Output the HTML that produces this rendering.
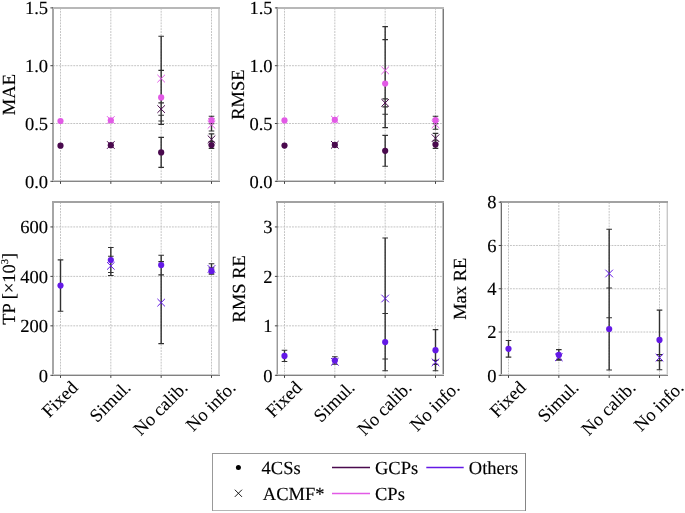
<!DOCTYPE html><html><head><meta charset="utf-8"><style>html,body{margin:0;padding:0;background:#fff;}svg{display:block;will-change:transform;}text{font-family:"Liberation Serif",serif;fill:#000;text-rendering:geometricPrecision;stroke:#000;stroke-width:0.15px;}</style></head><body>
<svg width="685" height="513" viewBox="0 0 685 513">
<rect x="0" y="0" width="685" height="513" fill="#fff"/>
<path d="M53 123.5H219M53 65.7H219M60.5 7.9V181.3M110.83 7.9V181.3M161.17 7.9V181.3M211.5 7.9V181.3" stroke="#c4c4c4" stroke-width="1" stroke-dasharray="1.9 1.0" fill="none"/>
<rect x="52" y="7" width="1" height="175" fill="#a6a6a6"/>
<rect x="53" y="7" width="1" height="175" fill="#a6a6a6"/>
<rect x="218" y="7" width="1" height="175" fill="#d5d5d5"/>
<rect x="219" y="7" width="1" height="175" fill="#d5d5d5"/>
<rect x="52" y="7" width="168" height="1" fill="#b8b8b8"/>
<rect x="52" y="8" width="168" height="1" fill="#b8b8b8"/>
<rect x="52" y="180" width="168" height="1" fill="#cccccc"/>
<rect x="52" y="181" width="168" height="1" fill="#868686"/>
<path d="M50.4 181.3H53M50.4 123.5H53M50.4 65.7H53M50.4 7.9H53M60.5 181.3V183.9M110.83 181.3V183.9M161.17 181.3V183.9M211.5 181.3V183.9" stroke="#444" stroke-width="1" fill="none"/>
<text x="48.1" y="187.5" font-size="18.5" text-anchor="end">0.0</text>
<text x="48.1" y="129.7" font-size="18.5" text-anchor="end">0.5</text>
<text x="48.1" y="71.9" font-size="18.5" text-anchor="end">1.0</text>
<text x="48.1" y="14.1" font-size="18.5" text-anchor="end">1.5</text>
<text transform="translate(15.2 94.6) rotate(-90)" font-size="18.5" text-anchor="middle">MAE</text>
<path d="M161.17 36.2V121M161.17 70.4V124.4M161.17 102.9V115.3M161.17 137.4V167.4M211.5 116.25V123.75M211.5 118.6V131M211.5 133.9V144.7M211.5 141.6V148.4" stroke="#303030" stroke-width="1.4" fill="none"/>
<path d="M158.37 36.2H163.97M158.37 121H163.97M158.37 70.4H163.97M158.37 124.4H163.97M158.37 102.9H163.97M158.37 115.3H163.97M158.37 137.4H163.97M158.37 167.4H163.97M208.7 116.25H214.3M208.7 123.75H214.3M208.7 118.6H214.3M208.7 131H214.3M208.7 133.9H214.3M208.7 144.7H214.3M208.7 141.6H214.3M208.7 148.4H214.3" stroke="#303030" stroke-width="1.1" fill="none"/>
<circle cx="60.5" cy="121" r="3.1" fill="#e25ae6"/>
<circle cx="60.5" cy="145.7" r="3.1" fill="#4a0a4e"/>
<circle cx="110.83" cy="120.3" r="3.1" fill="#e25ae6"/>
<path d="M107.03 116.2L114.63 123.8M107.03 123.8L114.63 116.2" stroke="#e25ae6" stroke-width="1.0" fill="none"/>
<circle cx="110.83" cy="145.2" r="3.1" fill="#4a0a4e"/>
<path d="M107.03 141.2L114.63 148.8M107.03 148.8L114.63 141.2" stroke="#4a0a4e" stroke-width="1.0" fill="none"/>
<path d="M157.37 74.8L164.97 82.4M157.37 82.4L164.97 74.8" stroke="#e25ae6" stroke-width="1.0" fill="none"/>
<circle cx="161.17" cy="97.4" r="3.1" fill="#e25ae6"/>
<path d="M157.37 105.3L164.97 112.9M157.37 112.9L164.97 105.3" stroke="#4a0a4e" stroke-width="1.0" fill="none"/>
<circle cx="161.17" cy="152.4" r="3.1" fill="#4a0a4e"/>
<circle cx="211.5" cy="120" r="3.1" fill="#e25ae6"/>
<path d="M207.7 121L215.3 128.6M207.7 128.6L215.3 121" stroke="#e25ae6" stroke-width="1.0" fill="none"/>
<path d="M207.7 135.5L215.3 143.1M207.7 143.1L215.3 135.5" stroke="#4a0a4e" stroke-width="1.0" fill="none"/>
<circle cx="211.5" cy="145" r="3.1" fill="#4a0a4e"/>
<path d="M277.5 123.5H443M277.5 65.7H443M284.5 7.9V181.3M334.83 7.9V181.3M385.17 7.9V181.3M435.5 7.9V181.3" stroke="#c4c4c4" stroke-width="1" stroke-dasharray="1.9 1.0" fill="none"/>
<rect x="276" y="7" width="1" height="175" fill="#d1d1d1"/>
<rect x="277" y="7" width="1" height="175" fill="#999999"/>
<rect x="442" y="7" width="1" height="175" fill="#c0c0c0"/>
<rect x="443" y="7" width="1" height="175" fill="#7a7a7a"/>
<rect x="276" y="7" width="168" height="1" fill="#b8b8b8"/>
<rect x="276" y="8" width="168" height="1" fill="#b8b8b8"/>
<rect x="276" y="180" width="168" height="1" fill="#cccccc"/>
<rect x="276" y="181" width="168" height="1" fill="#868686"/>
<path d="M274.9 181.3H277.5M274.9 123.5H277.5M274.9 65.7H277.5M274.9 7.9H277.5M284.5 181.3V183.9M334.83 181.3V183.9M385.17 181.3V183.9M435.5 181.3V183.9" stroke="#444" stroke-width="1" fill="none"/>
<text x="272.6" y="187.5" font-size="18.5" text-anchor="end">0.0</text>
<text x="272.6" y="129.7" font-size="18.5" text-anchor="end">0.5</text>
<text x="272.6" y="71.9" font-size="18.5" text-anchor="end">1.0</text>
<text x="272.6" y="14.1" font-size="18.5" text-anchor="end">1.5</text>
<text transform="translate(243.8 94.6) rotate(-90)" font-size="18.5" text-anchor="middle">RMSE</text>
<path d="M385.17 26.6V114.2M385.17 39.6V127.6M385.17 98.9V106.9M385.17 135.4V166.2M435.5 116.25V123.75M435.5 119.3V129.3M435.5 133.4V143M435.5 140.8V148.4" stroke="#303030" stroke-width="1.4" fill="none"/>
<path d="M382.37 26.6H387.97M382.37 114.2H387.97M382.37 39.6H387.97M382.37 127.6H387.97M382.37 98.9H387.97M382.37 106.9H387.97M382.37 135.4H387.97M382.37 166.2H387.97M432.7 116.25H438.3M432.7 123.75H438.3M432.7 119.3H438.3M432.7 129.3H438.3M432.7 133.4H438.3M432.7 143H438.3M432.7 140.8H438.3M432.7 148.4H438.3" stroke="#303030" stroke-width="1.1" fill="none"/>
<circle cx="284.5" cy="120.4" r="3.1" fill="#e25ae6"/>
<circle cx="284.5" cy="145.6" r="3.1" fill="#4a0a4e"/>
<circle cx="334.83" cy="119.8" r="3.1" fill="#e25ae6"/>
<path d="M331.03 115.8L338.63 123.4M331.03 123.4L338.63 115.8" stroke="#e25ae6" stroke-width="1.0" fill="none"/>
<circle cx="334.83" cy="144.9" r="3.1" fill="#4a0a4e"/>
<path d="M331.03 141L338.63 148.6M331.03 148.6L338.63 141" stroke="#4a0a4e" stroke-width="1.0" fill="none"/>
<path d="M381.37 66.6L388.97 74.2M381.37 74.2L388.97 66.6" stroke="#e25ae6" stroke-width="1.0" fill="none"/>
<circle cx="385.17" cy="83.6" r="3.1" fill="#e25ae6"/>
<path d="M381.37 99.1L388.97 106.7M381.37 106.7L388.97 99.1" stroke="#4a0a4e" stroke-width="1.0" fill="none"/>
<circle cx="385.17" cy="150.8" r="3.1" fill="#4a0a4e"/>
<circle cx="435.5" cy="120" r="3.1" fill="#e25ae6"/>
<path d="M431.7 120.5L439.3 128.1M431.7 128.1L439.3 120.5" stroke="#e25ae6" stroke-width="1.0" fill="none"/>
<path d="M431.7 134.4L439.3 142M431.7 142L439.3 134.4" stroke="#4a0a4e" stroke-width="1.0" fill="none"/>
<circle cx="435.5" cy="144.6" r="3.1" fill="#4a0a4e"/>
<path d="M53 325.84H219M53 276.39H219M53 226.93H219M60.5 202.2V375.3M110.83 202.2V375.3M161.17 202.2V375.3M211.5 202.2V375.3" stroke="#c4c4c4" stroke-width="1" stroke-dasharray="1.9 1.0" fill="none"/>
<rect x="52" y="201" width="1" height="175" fill="#a6a6a6"/>
<rect x="53" y="201" width="1" height="175" fill="#a6a6a6"/>
<rect x="218" y="201" width="1" height="175" fill="#d5d5d5"/>
<rect x="219" y="201" width="1" height="175" fill="#d5d5d5"/>
<rect x="52" y="201" width="168" height="1" fill="#a2a2a2"/>
<rect x="52" y="202" width="168" height="1" fill="#a2a2a2"/>
<rect x="52" y="374" width="168" height="1" fill="#cdcdcd"/>
<rect x="52" y="375" width="168" height="1" fill="#818181"/>
<path d="M50.4 375.3H53M50.4 325.84H53M50.4 276.39H53M50.4 226.93H53M60.5 375.3V377.9M110.83 375.3V377.9M161.17 375.3V377.9M211.5 375.3V377.9" stroke="#444" stroke-width="1" fill="none"/>
<text x="48.1" y="381.5" font-size="18.5" text-anchor="end">0</text>
<text x="48.1" y="332.04" font-size="18.5" text-anchor="end">200</text>
<text x="48.1" y="282.59" font-size="18.5" text-anchor="end">400</text>
<text x="48.1" y="233.13" font-size="18.5" text-anchor="end">600</text>
<text transform="translate(14.6 288.75) rotate(-90)" font-size="18.5" text-anchor="middle">TP [×10<tspan font-size="10.545" dy="-6.2">3</tspan><tspan dy="6.2">]</tspan></text>
<text transform="translate(49.15 418.43) rotate(-45)" font-size="18.5" style="stroke-width:0.08px">Fixed</text>
<text transform="translate(97.12 423.17) rotate(-45)" font-size="18.5" style="stroke-width:0.08px">Simul.</text>
<text transform="translate(140.74 436.59) rotate(-45)" font-size="18.5" style="stroke-width:0.08px">No calib.</text>
<text transform="translate(193.25 432.24) rotate(-45)" font-size="18.5" style="stroke-width:0.08px">No info.</text>
<path d="M60.5 259.9V311.3M110.83 247.5V272.5M110.83 256.3V275.5M161.17 255.3V274.9M161.17 261.6V343.6M211.5 263.7V274.3M211.5 267.9V273.9" stroke="#303030" stroke-width="1.4" fill="none"/>
<path d="M57.7 259.9H63.3M57.7 311.3H63.3M108.03 247.5H113.63M108.03 272.5H113.63M108.03 256.3H113.63M108.03 275.5H113.63M158.37 255.3H163.97M158.37 274.9H163.97M158.37 261.6H163.97M158.37 343.6H163.97M208.7 263.7H214.3M208.7 274.3H214.3M208.7 267.9H214.3M208.7 273.9H214.3" stroke="#303030" stroke-width="1.1" fill="none"/>
<circle cx="60.5" cy="285.6" r="3.1" fill="#6419e6"/>
<circle cx="110.83" cy="260" r="3.1" fill="#6419e6"/>
<path d="M107.03 262.1L114.63 269.7M107.03 269.7L114.63 262.1" stroke="#6419e6" stroke-width="1.0" fill="none"/>
<circle cx="161.17" cy="265.1" r="3.1" fill="#6419e6"/>
<path d="M157.37 298.8L164.97 306.4M157.37 306.4L164.97 298.8" stroke="#6419e6" stroke-width="1.0" fill="none"/>
<path d="M207.7 265.2L215.3 272.8M207.7 272.8L215.3 265.2" stroke="#6419e6" stroke-width="1.0" fill="none"/>
<circle cx="211.5" cy="270.9" r="3.1" fill="#6419e6"/>
<path d="M277.5 325.84H443M277.5 276.39H443M277.5 226.93H443M284.5 202.2V375.3M334.83 202.2V375.3M385.17 202.2V375.3M435.5 202.2V375.3" stroke="#c4c4c4" stroke-width="1" stroke-dasharray="1.9 1.0" fill="none"/>
<rect x="276" y="201" width="1" height="175" fill="#d1d1d1"/>
<rect x="277" y="201" width="1" height="175" fill="#999999"/>
<rect x="442" y="201" width="1" height="175" fill="#c0c0c0"/>
<rect x="443" y="201" width="1" height="175" fill="#7a7a7a"/>
<rect x="276" y="201" width="168" height="1" fill="#a2a2a2"/>
<rect x="276" y="202" width="168" height="1" fill="#a2a2a2"/>
<rect x="276" y="374" width="168" height="1" fill="#cdcdcd"/>
<rect x="276" y="375" width="168" height="1" fill="#818181"/>
<path d="M274.9 375.3H277.5M274.9 325.84H277.5M274.9 276.39H277.5M274.9 226.93H277.5M284.5 375.3V377.9M334.83 375.3V377.9M385.17 375.3V377.9M435.5 375.3V377.9" stroke="#444" stroke-width="1" fill="none"/>
<text x="272.6" y="381.5" font-size="18.5" text-anchor="end">0</text>
<text x="272.6" y="332.04" font-size="18.5" text-anchor="end">1</text>
<text x="272.6" y="282.59" font-size="18.5" text-anchor="end">2</text>
<text x="272.6" y="233.13" font-size="18.5" text-anchor="end">3</text>
<text transform="translate(244.8 288.75) rotate(-90)" font-size="18.5" text-anchor="middle">RMS RE</text>
<text transform="translate(273.15 418.43) rotate(-45)" font-size="18.5" style="stroke-width:0.08px">Fixed</text>
<text transform="translate(321.12 423.17) rotate(-45)" font-size="18.5" style="stroke-width:0.08px">Simul.</text>
<text transform="translate(364.74 436.59) rotate(-45)" font-size="18.5" style="stroke-width:0.08px">No calib.</text>
<text transform="translate(417.25 432.24) rotate(-45)" font-size="18.5" style="stroke-width:0.08px">No info.</text>
<path d="M284.5 350.3V361.5M334.83 356.7V364.3M334.83 359.3V364.3M385.17 238V359M385.17 313.5V370.7M435.5 329.6V370.8M435.5 360.4V364.4" stroke="#303030" stroke-width="1.4" fill="none"/>
<path d="M281.7 350.3H287.3M281.7 361.5H287.3M332.03 356.7H337.63M332.03 364.3H337.63M332.03 359.3H337.63M332.03 364.3H337.63M382.37 238H387.97M382.37 359H387.97M382.37 313.5H387.97M382.37 370.7H387.97M432.7 329.6H438.3M432.7 370.8H438.3M432.7 360.4H438.3M432.7 364.4H438.3" stroke="#303030" stroke-width="1.1" fill="none"/>
<circle cx="284.5" cy="355.9" r="3.1" fill="#6419e6"/>
<circle cx="334.83" cy="360.5" r="3.1" fill="#6419e6"/>
<path d="M331.03 358L338.63 365.6M331.03 365.6L338.63 358" stroke="#6419e6" stroke-width="1.0" fill="none"/>
<path d="M381.37 294.7L388.97 302.3M381.37 302.3L388.97 294.7" stroke="#6419e6" stroke-width="1.0" fill="none"/>
<circle cx="385.17" cy="342.1" r="3.1" fill="#6419e6"/>
<circle cx="435.5" cy="350.2" r="3.1" fill="#6419e6"/>
<path d="M431.7 358.6L439.3 366.2M431.7 366.2L439.3 358.6" stroke="#6419e6" stroke-width="1.0" fill="none"/>
<path d="M501.3 332.02H667.4M501.3 288.75H667.4M501.3 245.47H667.4M508.5 202.2V375.3M558.83 202.2V375.3M609.17 202.2V375.3M659.5 202.2V375.3" stroke="#c4c4c4" stroke-width="1" stroke-dasharray="1.9 1.0" fill="none"/>
<rect x="500" y="201" width="1" height="175" fill="#d0d0d0"/>
<rect x="501" y="201" width="1" height="175" fill="#6c6c6c"/>
<rect x="666" y="201" width="1" height="175" fill="#e8e8e8"/>
<rect x="667" y="201" width="1" height="175" fill="#c8c8c8"/>
<rect x="500" y="201" width="168" height="1" fill="#a2a2a2"/>
<rect x="500" y="202" width="168" height="1" fill="#a2a2a2"/>
<rect x="500" y="374" width="168" height="1" fill="#cdcdcd"/>
<rect x="500" y="375" width="168" height="1" fill="#818181"/>
<path d="M498.7 375.3H501.3M498.7 332.02H501.3M498.7 288.75H501.3M498.7 245.47H501.3M498.7 202.2H501.3M508.5 375.3V377.9M558.83 375.3V377.9M609.17 375.3V377.9M659.5 375.3V377.9" stroke="#444" stroke-width="1" fill="none"/>
<text x="496.4" y="381.5" font-size="18.5" text-anchor="end">0</text>
<text x="496.4" y="338.22" font-size="18.5" text-anchor="end">2</text>
<text x="496.4" y="294.95" font-size="18.5" text-anchor="end">4</text>
<text x="496.4" y="251.67" font-size="18.5" text-anchor="end">6</text>
<text x="496.4" y="208.4" font-size="18.5" text-anchor="end">8</text>
<text transform="translate(465.6 288.75) rotate(-90)" font-size="18.5" text-anchor="middle">Max RE</text>
<text transform="translate(497.15 418.43) rotate(-45)" font-size="18.5" style="stroke-width:0.08px">Fixed</text>
<text transform="translate(545.12 423.17) rotate(-45)" font-size="18.5" style="stroke-width:0.08px">Simul.</text>
<text transform="translate(588.74 436.59) rotate(-45)" font-size="18.5" style="stroke-width:0.08px">No calib.</text>
<text transform="translate(641.25 432.24) rotate(-45)" font-size="18.5" style="stroke-width:0.08px">No info.</text>
<path d="M508.5 340.5V357.1M558.83 349.6V360.2M558.83 355.3V359.3M609.17 229.3V317.7M609.17 288V370M659.5 310.1V369.7M659.5 354.6V360.6" stroke="#303030" stroke-width="1.4" fill="none"/>
<path d="M505.7 340.5H511.3M505.7 357.1H511.3M556.03 349.6H561.63M556.03 360.2H561.63M556.03 355.3H561.63M556.03 359.3H561.63M606.37 229.3H611.97M606.37 317.7H611.97M606.37 288H611.97M606.37 370H611.97M656.7 310.1H662.3M656.7 369.7H662.3M656.7 354.6H662.3M656.7 360.6H662.3" stroke="#303030" stroke-width="1.1" fill="none"/>
<circle cx="508.5" cy="348.8" r="3.1" fill="#6419e6"/>
<circle cx="558.83" cy="354.9" r="3.1" fill="#6419e6"/>
<path d="M555.03 353.5L562.63 361.1M555.03 361.1L562.63 353.5" stroke="#6419e6" stroke-width="1.0" fill="none"/>
<path d="M605.37 269.7L612.97 277.3M605.37 277.3L612.97 269.7" stroke="#6419e6" stroke-width="1.0" fill="none"/>
<circle cx="609.17" cy="329" r="3.1" fill="#6419e6"/>
<circle cx="659.5" cy="339.9" r="3.1" fill="#6419e6"/>
<path d="M655.7 353.8L663.3 361.4M655.7 361.4L663.3 353.8" stroke="#6419e6" stroke-width="1.0" fill="none"/>
<rect x="212" y="453" width="314" height="1" fill="#999"/>
<rect x="212" y="510" width="314" height="1" fill="#b5b5b5"/>
<rect x="212" y="453" width="1" height="58" fill="#999"/>
<rect x="525" y="453" width="1" height="58" fill="#858585"/>
<circle cx="238.4" cy="467.5" r="2.5" fill="#000"/>
<path d="M234.8 489.7L242 496.9M234.8 496.9L242 489.7" stroke="#000" stroke-width="0.9" fill="none"/>
<text x="261.6" y="474" font-size="18.5">4CSs</text>
<text x="262.8" y="499.8" font-size="18.5">ACMF*</text>
<path d="M332 467.4H370" stroke="#4a0a4e" stroke-width="1.5"/>
<path d="M332 493.4H370" stroke="#e25ae6" stroke-width="1.5"/>
<path d="M426.3 467.4H463.7" stroke="#6419e6" stroke-width="1.5"/>
<text x="375" y="474" font-size="18.5">GCPs</text>
<text x="375" y="499.8" font-size="18.5">CPs</text>
<text x="468.8" y="474" font-size="18.5">Others</text>
</svg></body></html>
